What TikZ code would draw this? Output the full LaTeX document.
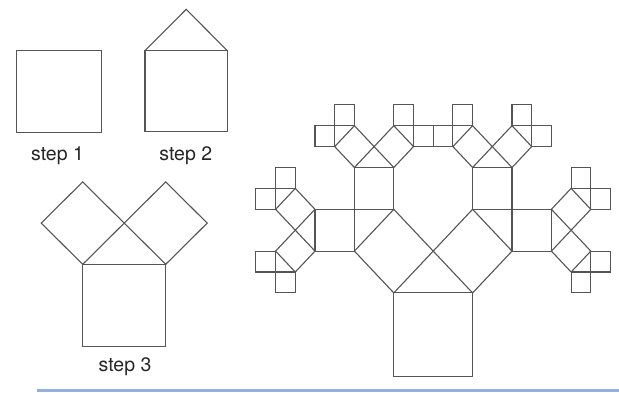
\documentclass[tikz,border=0pt]{standalone}
\usepackage{fontspec}
\setmainfont{TeX Gyre Heros}
\definecolor{linegray}{RGB}{85,85,85}
\definecolor{barblue}{RGB}{148,176,222}
\newcommand\pythtree[1]{%
  \draw[sq] (0,0) rectangle (1,1);
  \ifnum#1>0
    \begin{scope}[shift={(0,1)},rotate=45,scale=0.70710678]
      \expandafter\pythtree\expandafter{\the\numexpr#1-1\relax}
    \end{scope}
    \begin{scope}[shift={(0.5,1.5)},rotate=-45,scale=0.70710678]
      \expandafter\pythtree\expandafter{\the\numexpr#1-1\relax}
    \end{scope}
  \fi}
\begin{document}
\begin{tikzpicture}[x=1pt,y=1pt,
  sq/.style={draw=linegray,line width=1.1pt,line join=miter},
  lbl/.style={anchor=base,inner sep=0pt,font=\fontsize{19.5}{22}\selectfont,text=black!85}]
\useasboundingbox (0,-392) rectangle (619,0);
% blue bar
\fill[barblue] (36.7,-392) rectangle (619,-389);
% step 1
\draw[sq] (16.7,-132.7) rectangle (101.7,-50.7);
\node[lbl] (s1) at (57.5,-160.5) {step 1};
% step 2
\draw[sq] (145,-131.7) rectangle (227.3,-50.7);
\draw[sq] (145,-50.7) -- (186.2,-9.3) -- (227.3,-50.7);
\node[lbl] (s2) at (185.8,-160.5) {step 2};
% step 3
\begin{scope}[shift={(82.7,-346.7)},xscale=83,yscale=82.4]
  \pythtree{1}
\end{scope}
\node[lbl] (s3) at (125,-371.5) {step 3};
% full tree
\begin{scope}[shift={(393.8,-376.5)},xscale=78.8,yscale=83.6]
  \pythtree{4}
\end{scope}
\end{tikzpicture}
\end{document}
